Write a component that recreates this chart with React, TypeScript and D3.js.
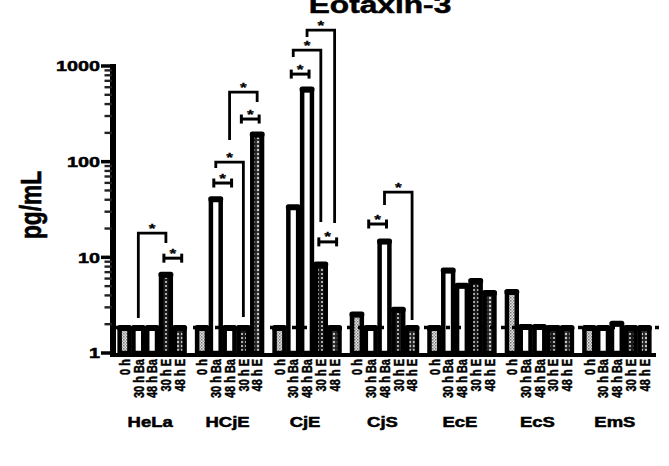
import React from 'react';
import * as d3 from 'd3';

const cellLines = ['HeLa', 'HCjE', 'CjE', 'CjS', 'EcE', 'EcS', 'EmS'];
const conditions = ['0 h', '30 h Ba', '48 h Ba', '30 h E', '48 h E'];
const values0h = [1.8, 1.8, 1.8, 2.5, 1.8, 4.3, 1.8];
const values30hBa = [1.8, 40, 33, 1.8, 7.2, 1.85, 1.8];
const values48hBa = [1.8, 1.8, 560, 14.5, 5.0, 1.85, 2.0];
const values30hE = [6.5, 1.8, 8.3, 2.8, 5.6, 1.8, 1.8];
const values48hE = [1.8, 190, 1.8, 1.8, 4.2, 1.8, 1.8];
const yTickValues = [1, 10, 100, 1000];
const yTickLabels = ['1', '10', '100', '1000'];
const detectionLimit = 1.85;
const title = 'Eotaxin-3';
const yLabel = 'pg/mL';

// significance annotations: group, bar a, bar b, level, leg ends (pg/mL)
const brackets = [
  { g: 'HeLa', a: 1, b: 3, kind: 'bracket', top: 17.9, endA: 2.32, endB: 14.1 },
  { g: 'HeLa', a: 3, b: 4, kind: 'h', top: 9.8 },
  { g: 'HCjE', a: 1, b: 2, kind: 'h', top: 59.8 },
  { g: 'HCjE', a: 1, b: 3, kind: 'bracket', top: 99, endA: 85.7, endB: 2.38 },
  { g: 'HCjE', a: 2, b: 4, kind: 'bracket', top: 534, endA: 168, endB: 420 },
  { g: 'HCjE', a: 3, b: 4, kind: 'h', top: 279 },
  { g: 'CjE', a: 1, b: 2, kind: 'h', top: 823 },
  { g: 'CjE', a: 1, b: 3, kind: 'bracket', top: 1466, endA: 1239, endB: 23.4 },
  { g: 'CjE', a: 2, b: 4, kind: 'bracket', top: 2372, endA: 2004, endB: 22.8 },
  { g: 'CjE', a: 3, b: 4, kind: 'h', top: 14.5 },
  { g: 'CjS', a: 1, b: 2, kind: 'h', top: 22.3 },
  { g: 'CjS', a: 2, b: 4, kind: 'bracket', top: 48.1, endA: 35.2, endB: 2.21 },
];

const seriesValues = [values0h, values30hBa, values48hBa, values30hE, values48hE];
const seriesFill = ['url(#lightDots)', '#ffffff', '#ffffff', 'url(#darkDots)', 'url(#darkDots2)'];

const W = 669;
const H = 466;
const FONT = '"Liberation Sans", Arial, Helvetica, sans-serif';
const SX = 1.32;

export default function App() {
  const x = d3.scaleBand<string>().domain(cellLines).range([113, 656]).paddingInner(0.11).paddingOuter(0.06);
  const xi = d3.scaleBand<string>().domain(conditions).range([0, x.bandwidth()]);
  const y = d3.scaleLog().domain([1, 1000]).range([353, 66]);
  const bw = xi.bandwidth();
  const base = y(1);

  const minorTicks: number[] = [];
  [1, 10, 100].forEach((d) => {
    for (let k = 2; k <= 9; k++) minorTicks.push(d * k);
  });

  const barCenter = (g: string, i: number) => (x(g) as number) + (xi(conditions[i]) as number) + bw / 2;
  const heavy = { stroke: '#000', strokeWidth: 0.5 } as const;

  return (
    <svg width={W} height={H} style={{ position: 'absolute', left: 0, top: 0, background: '#fff' }} fontFamily={FONT}>
      <defs>
        <pattern id="lightDots" width="3" height="3" patternUnits="userSpaceOnUse">
          <rect width="3" height="3" fill="#e2e2e2" />
          <rect width="1.5" height="1.5" fill="#7a7a7a" />
          <rect x="1.5" y="1.5" width="1.5" height="1.5" fill="#a0a0a0" />
        </pattern>
        <pattern id="darkDots" width="4" height="4" patternUnits="userSpaceOnUse">
          <rect width="4" height="4" fill="#1a1a1a" />
          <circle cx="2" cy="2" r="1.1" fill="#cfcfcf" />
        </pattern>
        <pattern id="darkDots2" width="4" height="4" patternUnits="userSpaceOnUse">
          <rect width="4" height="4" fill="#252525" />
          <circle cx="2" cy="2" r="1.2" fill="#c8c8c8" />
        </pattern>
      </defs>

      {/* title */}
      <text transform={`translate(380,12.5) scale(${SX},1)`} textAnchor="middle" fontSize={24} fontWeight="bold" {...heavy}>
        {title}
      </text>

      {/* y label */}
      <text
        transform={`translate(30,205) scale(${SX},1) rotate(-90)`}
        textAnchor="middle"
        dy="0.35em"
        fontSize={23}
        fontWeight="bold"
        textLength={68}
        lengthAdjust="spacingAndGlyphs"
        {...heavy}
      >
        {yLabel}
      </text>

      {/* bars */}
      {cellLines.map((g, gi) => (
        <g key={g}>
          {seriesValues.map((vals, si) => {
            const v = vals[gi];
            const bx = (x(g) as number) + (xi(conditions[si]) as number);
            const top = y(v);
            return (
              <g key={si}>
                <rect x={bx + 2} y={top} width={bw - 4} height={base - top} fill={seriesFill[si]} stroke="#000" strokeWidth={4.5} />
                <rect x={bx - 0.5} y={top - 3.5} width={bw + 1} height={6} rx={2.5} fill="#000" />
              </g>
            );
          })}
        </g>
      ))}

      {/* detection limit */}
      <line x1={116} x2={662} y1={y(detectionLimit)} y2={y(detectionLimit)} stroke="#000" strokeWidth={3.5} strokeDasharray="4 7" />

      {/* y axis */}
      <line x1={113} x2={113} y1={y(1000) - 2} y2={357} stroke="#000" strokeWidth={6} />
      {minorTicks.map((t) => (
        <line key={t} x1={104.5} x2={112} y1={y(t)} y2={y(t)} stroke="#222" strokeWidth={2.4} />
      ))}
      {yTickValues.map((t, i) => (
        <g key={t}>
          <line x1={101} x2={112} y1={y(t)} y2={y(t)} stroke="#000" strokeWidth={3.5} />
          <text transform={`translate(100,${y(t)}) scale(${SX},1)`} textAnchor="end" dy="0.36em" fontSize={15} fontWeight="bold" {...heavy}>
            {yTickLabels[i]}
          </text>
        </g>
      ))}

      {/* x axis */}
      <line x1={110} x2={656} y1={355} y2={355} stroke="#000" strokeWidth={4} />

      {/* x tick labels */}
      {cellLines.map((g) => (
        <g key={g}>
          {conditions.map((c, ci) => (
            <text
              key={c}
              transform={`translate(${barCenter(g, ci)},359) scale(${SX},1) rotate(-90)`}
              textAnchor="end"
              dy="0.36em"
              fontSize={11}
              fontWeight="bold"
              stroke="#000"
              strokeWidth={0.35}
            >
              {c}
            </text>
          ))}
          <text transform={`translate(${(x(g) as number) + x.bandwidth() / 2 - 2},427) scale(${SX},1)`} textAnchor="middle" fontSize={14} fontWeight="bold" {...heavy}>
            {g}
          </text>
        </g>
      ))}

      {/* significance brackets */}
      {brackets.map((b, i) => {
        const xa = barCenter(b.g, b.a);
        const xb = barCenter(b.g, b.b);
        const ty = y(b.top);
        if (b.kind === 'h') {
          const x1 = xa - 2;
          const x2 = xb + 2;
          return (
            <g key={i} stroke="#000" strokeWidth={3}>
              <line x1={x1} x2={x2} y1={ty} y2={ty} />
              <line x1={x1} x2={x1} y1={ty - 4.5} y2={ty + 4.5} />
              <line x1={x2} x2={x2} y1={ty - 4.5} y2={ty + 4.5} />
              <text stroke="#000" strokeWidth={0.3} transform={`translate(${(x1 + x2) / 2},${ty - 0.5}) scale(${SX},1)`} textAnchor="middle" fontSize={13} fontWeight="bold">
                *
              </text>
            </g>
          );
        }
        return (
          <g key={i}>
            <path
              d={`M${xa},${y(b.endA as number)}V${ty}H${xb}V${y(b.endB as number)}`}
              fill="none"
              stroke="#000"
              strokeWidth={2.8}
            />
            <text stroke="#000" strokeWidth={0.3} transform={`translate(${(xa + xb) / 2},${ty - 0.5}) scale(${SX},1)`} textAnchor="middle" fontSize={13} fontWeight="bold">
              *
            </text>
          </g>
        );
      })}
    </svg>
  );
}
